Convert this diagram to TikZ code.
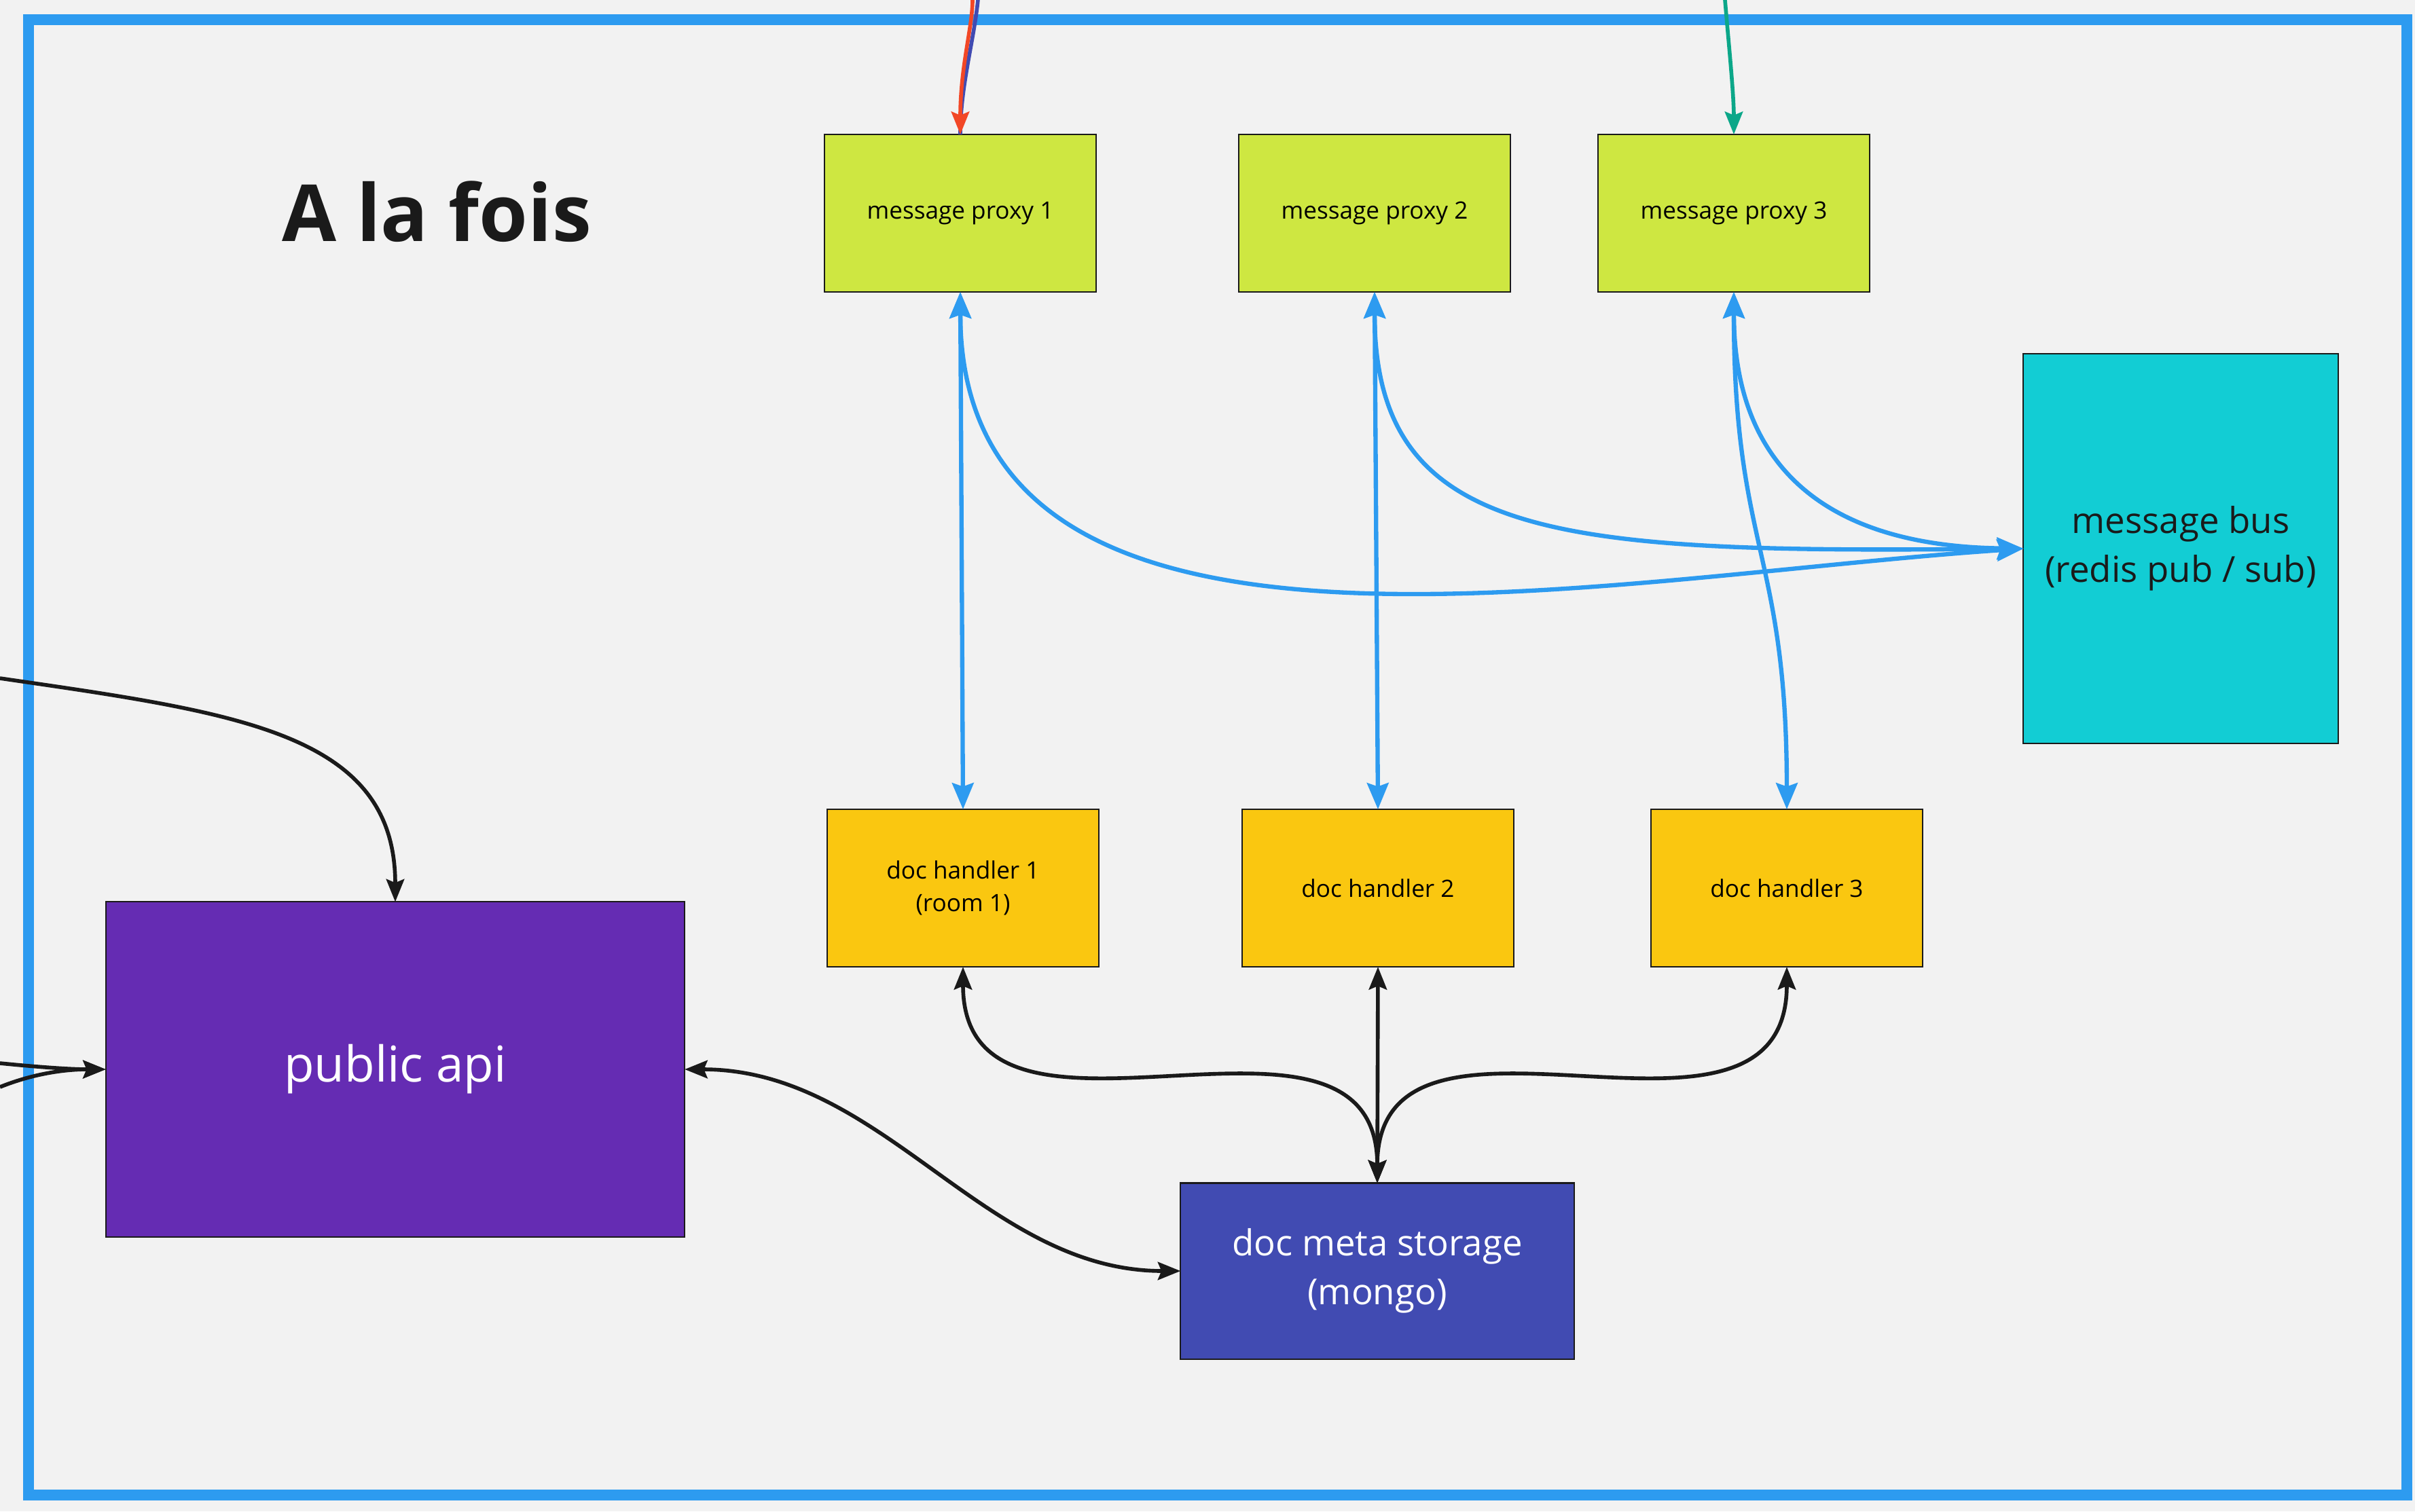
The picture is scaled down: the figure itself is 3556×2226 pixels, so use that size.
\documentclass[tikz,border=0pt]{standalone}
\usepackage{fontspec}
\setmainfont{Open Sans}
\usepackage{tikz}
\usetikzlibrary{arrows.meta,positioning}
\definecolor{fondo}{HTML}{F2F2F2}
\definecolor{marco}{HTML}{2D9BF0}
\definecolor{lima}{HTML}{CEE741}
\definecolor{amarillo}{HTML}{FAC710}
\definecolor{cian}{HTML}{12CDD4}
\definecolor{violeta}{HTML}{652CB3}
\definecolor{indigo}{HTML}{414BB2}
\definecolor{rojo}{HTML}{F24726}
\definecolor{verde}{HTML}{0CA789}
\definecolor{tinta}{HTML}{1A1A1A}
\tikzstyle{box}    =[draw=tinta, line width=0.6pt, inner sep=0pt,
                     outer sep=0pt, align=center]
\tikzstyle{proxy}  =[box, fill=lima, minimum width=3.99cm,
                     minimum height=2.32cm, font=\fontsize{10}{13.7}\selectfont]
\tikzstyle{handler}=[box, fill=amarillo, minimum width=3.99cm,
                     minimum height=2.32cm, font=\fontsize{10}{13.7}\selectfont]
\tikzstyle{big}    =[box, text=white, font=\fontsize{15}{20.5}\selectfont]
\tikzstyle{link}   =[line width=1.6pt, color=tinta,
                     >={Stealth[length=9.5pt,width=7.5pt,inset=1.5pt]}]
\tikzstyle{bluelink}=[line width=1.8pt, color=marco,
                     >={Stealth[length=11pt,width=9pt,inset=1.5pt]}]

\begin{document}
\begin{tikzpicture}[x=0.01cm,y=0.01cm]
    \fill[fondo] (0,0) rectangle (3556,-2226);
    \useasboundingbox (0,0) rectangle (3556,-2226);
    \draw[marco, line width=4.5pt] (42,-29) rectangle (3544,-2202);

    \draw (643,-355) node(titulo)[anchor=base, text=tinta,
        font=\fontsize{33}{40}\selectfont\bfseries]{A la fois};

    % message proxies and doc handlers
    \draw (1414,-314) node(p1)[proxy]{message proxy 1};
    \draw (2024,-314) node(p2)[proxy]{message proxy 2};
    \draw (2553,-314) node(p3)[proxy]{message proxy 3};
    \draw (1418,-1308) node(h1)[handler]{doc handler 1\\(room 1)};
    \draw (2029,-1308) node(h2)[handler]{doc handler 2};
    \draw (2631,-1308) node(h3)[handler]{doc handler 3};

    \draw (3211,-808) node(bus)[big, fill=cian, text=tinta, minimum width=4.63cm,
        minimum height=5.73cm]{message bus\\(redis pub / sub)};
    \draw (582,-1575) node(api)[big, fill=violeta, minimum width=8.52cm,
        minimum height=4.93cm, font=\fontsize{20.7}{26}\selectfont]{public api};
    \draw (2028,-1872) node(mongo)[big, fill=indigo, minimum width=5.79cm,
        minimum height=2.59cm]{doc meta storage\\(mongo)};

    % loose ends coming from outside
    \coordinate (navyin)  at (1440,0);
    \coordinate (redin)   at (1432,0);
    \coordinate (greenin) at (2540,0);
    \coordinate (leftin)  at (0,-999);
    \coordinate (ina)     at (0,-1566);
    \coordinate (inb)     at (0,-1601);

    \draw [link, color=indigo] (navyin) .. controls +(-6,-60) and +(0,70) .. (p1.north);
    \draw [link, color=rojo, ->] (redin) .. controls +(0,-40) and +(0,100) .. (p1.north);
    \draw [link, color=verde, ->] (greenin) .. controls +(5,-60) and +(0,60) .. (p3.north);

    \foreach \i/\j in {p1/h1,p2/h2}
        \draw [bluelink, <->] (\i.south) -- (\j.north);
    \draw [bluelink, <->] (p3.south) .. controls +(0,-380) and +(0,380) .. (h3.north);

    \draw [bluelink, <->] (p1.south) .. controls +(0,-620) and +(-629,-42) .. (bus.west);
    \draw [bluelink, <->] (p2.south) .. controls +(0,-370) and +(-679,-7) .. (bus.west);
    \draw [bluelink, <->] (p3.south) .. controls +(0,-290) and +(-250,3) .. (bus.west);

    \foreach \i in {h1,h3}
        \draw [link, <->] (\i.south) .. controls +(0,-326) and +(0,322) .. (mongo.north);
    \draw [link, <->] (h2.south) -- (mongo.north);

    \draw [link, <->] (api.east) .. controls +(292,0) and +(-289,0) .. (mongo.west);
    \draw [link, ->] (leftin) .. controls +(350,-51) and +(0,249) .. (api.north);
    \draw [link, ->] (ina) .. controls +(60,-6) and +(-50,0) .. (api.west);
    \draw [link, ->] (inb) .. controls +(50,20) and +(-60,0) .. (api.west);
\end{tikzpicture}
\end{document}
